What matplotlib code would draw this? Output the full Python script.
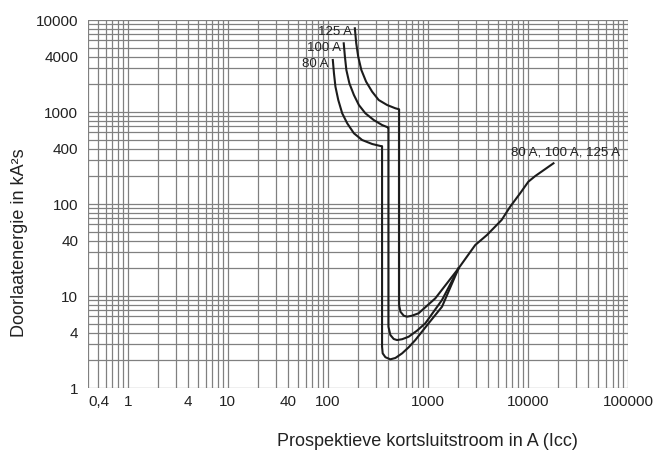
import numpy as np
import matplotlib.pyplot as plt
from matplotlib.ticker import FixedLocator, NullFormatter

plt.rcParams['font.family'] = ['Liberation Sans', 'DejaVu Sans']

# --- data (I in A, I2t in kA2s)
x80 = [112, 115, 119, 127, 139, 156, 182, 220, 277, 335, 348,
       348, 353, 376, 421, 473, 552, 642, 748, 1016, 1383, 2025]
y80 = [3675, 2633, 1884, 1350, 968, 754, 587, 496, 449, 427, 425,
       2.81, 2.38, 2.16, 2.05, 2.12, 2.38, 2.77, 3.32, 5.05, 7.65, 20]

x100 = [144, 148, 153, 164, 182, 204, 237, 287, 348, 396, 403,
        403, 421, 455, 491, 552, 642, 778, 942, 1383, 2025]
y100 = [5580, 3990, 2863, 2050, 1531, 1191, 968, 819, 722, 682, 680,
        4.64, 3.77, 3.41, 3.32, 3.39, 3.61, 4.2, 5.05, 9.05, 20]

x125 = [186, 192, 201, 216, 241, 277, 322, 391, 473, 512, 515,
        515, 531, 573, 618, 694, 807, 1186, 2025]
y125 = [8128, 5580, 3990, 2863, 2136, 1662, 1350, 1191, 1097, 1072, 1070,
        7.98, 6.75, 6.11, 5.96, 6.11, 6.49, 9.44, 20]

# common part for all three ratings
xc = [2025, 2970, 3890, 5450, 6640, 8360, 10100, 11800, 17990]
yc = [20, 35.8, 46, 67, 93.5, 131, 175, 201, 277]

xticks = [0.4, 1, 4, 10, 40, 100, 1000, 10000, 100000]
xlabels = ['0,4', '1', '4', '10', '40', '100', '1000', '10000', '100000']
yticks = [1, 4, 10, 40, 100, 400, 1000, 4000, 10000]
ylabels = ['1', '4', '10', '40', '100', '400', '1000', '4000', '10000']

fig = plt.figure(figsize=(6.57, 4.5), dpi=100)
ax = fig.add_axes([88/657, 1-388/450, 540/657, 368/450])
ax.set_xscale('log')
ax.set_yscale('log')
ax.set_xlim(0.4, 100000)
ax.set_ylim(1, 10000)

# grid lines at every 1..9 x 10^n
xminor = [k*10.0**n for n in range(-1, 5) for k in range(1, 10)]
xminor = [v for v in xminor if 0.4 <= v <= 100000] + [100000]
yminor = [k*10.0**n for n in range(0, 4) for k in range(1, 10)] + [10000]
ax.xaxis.set_minor_locator(FixedLocator(xminor))
ax.yaxis.set_minor_locator(FixedLocator(yminor))
ax.xaxis.set_minor_formatter(NullFormatter())
ax.yaxis.set_minor_formatter(NullFormatter())
ax.set_xticks(xticks)
ax.set_xticklabels(xlabels)
ax.set_yticks(yticks)
ax.set_yticklabels(ylabels)
ax.xaxis.remove_overlapping_locs = False
ax.yaxis.remove_overlapping_locs = False
ax.grid(True, which='minor', color='#808080', lw=0.9)
ax.grid(False, which='major')
ax.tick_params(which='both', length=0, labelsize=11, colors='#222222')
ax.tick_params(axis='y', pad=7)
ax.tick_params(axis='x', pad=5)
ax.get_xticklabels()[0].set_horizontalalignment('left')
for s in ax.spines.values():
    s.set_visible(False)
ax.set_axisbelow(True)

lc = '#1c1c1c'
ax.plot(x80, y80, color=lc, lw=1.5, solid_joinstyle='round')
ax.plot(x100, y100, color=lc, lw=1.5, solid_joinstyle='round')
ax.plot(x125, y125, color=lc, lw=1.5, solid_joinstyle='round')
ax.plot(xc, yc, color=lc, lw=1.5, solid_joinstyle='round')

ax.text(176, 7460, '125 A', ha='right', va='center', fontsize=9.5, color='#222222')
ax.text(134, 4960, '100 A', ha='right', va='center', fontsize=9.5, color='#222222')
ax.text(101, 3325, '80 A', ha='right', va='center', fontsize=9.5, color='#222222')
ax.text(24000, 361, '80 A, 100 A, 125 A', ha='center', va='center', fontsize=9.5, color='#222222')

fig.text(20/657, 1-243/450, 'Doorlaatenergie in kA²s', rotation=90,
         ha='center', va='center', fontsize=13, color='#222222')
fig.text(427/657, 1-442/450, 'Prospektieve kortsluitstroom in A (Icc)',
         ha='center', va='center', fontsize=13, color='#222222')

fig.savefig('out.png', dpi=100)
